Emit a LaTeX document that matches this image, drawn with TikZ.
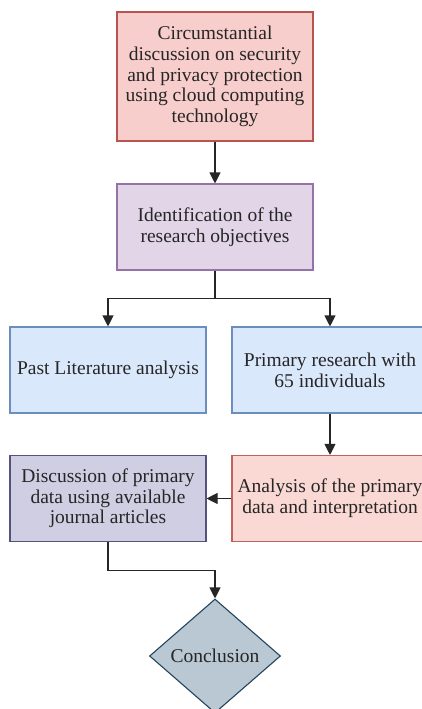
\documentclass[tikz,border=0pt]{standalone}
\usepackage{fontspec}
\setmainfont{Liberation Serif}
\usetikzlibrary{arrows.meta,shapes.geometric}
\definecolor{redfill}{HTML}{F8CECC}
\definecolor{redline}{HTML}{B85450}
\definecolor{purplefill}{HTML}{E1D5E7}
\definecolor{purpleline}{HTML}{9673A6}
\definecolor{bluefill}{HTML}{DAE8FC}
\definecolor{blueline}{HTML}{6C8EBF}
\definecolor{salmonfill}{HTML}{FAD9D5}
\definecolor{salmonline}{HTML}{C0625A}
\definecolor{violetfill}{HTML}{D0CEE2}
\definecolor{violetline}{HTML}{56517E}
\definecolor{greyfill}{HTML}{BAC8D3}
\definecolor{greyline}{HTML}{23445D}
\begin{document}
\begin{tikzpicture}[x=1pt, y=-1pt,
		box/.style={draw, line width=1.1pt, minimum width=196pt, minimum height=86pt, align=center, text=black!85, font=\fontsize{19.5}{20.7}\selectfont},
		arr/.style={-{Stealth[length=11pt, width=11pt, inset=0pt]}, line width=1.1pt, black!85}]
		\useasboundingbox (0,0) rectangle (422,709);

		\node[box, fill=redfill, draw=redline, minimum height=129pt] (circ) at (215,76.5) {Circumstantial\\discussion on security\\and privacy protection\\using cloud computing\\technology};
		\node[box, fill=purplefill, draw=purpleline] (ident) at (215,227) {Identification of the\\research objectives};

		\node[box, fill=bluefill, draw=blueline] (past) at (108,370) {Past Literature analysis};
		\node[box, fill=bluefill, draw=blueline] (prim) at (330,370) {Primary research with\\65 individuals};

		\node[box, fill=salmonfill, draw=salmonline] (anal) at (330,498.5) {Analysis of the primary\\data and interpretation};
		\node[box, fill=violetfill, draw=violetline] (disc) at (108,498.5) {Discussion of primary\\data using available\\journal articles};

		\node[diamond, draw=greyline, fill=greyfill, line width=1.1pt, minimum width=131pt, minimum height=114pt, inner sep=0pt, text=black!85, font=\fontsize{19.5}{20.7}\selectfont] (concl) at (215,656) {Conclusion};

		\draw[arr] (circ.south) -- (ident.north);
		\draw[arr] (ident.south) -- ++(0,28) -| (past.north);
		\draw[arr] (ident.south) -- ++(0,28) -| (prim.north);
		\draw[arr] (prim.south) -- (anal.north);
		\draw[arr] (anal.west) -- (disc.east);
		\draw[arr] (disc.south) -- ++(0,28) -| (concl.north);
	\end{tikzpicture}
\end{document}
